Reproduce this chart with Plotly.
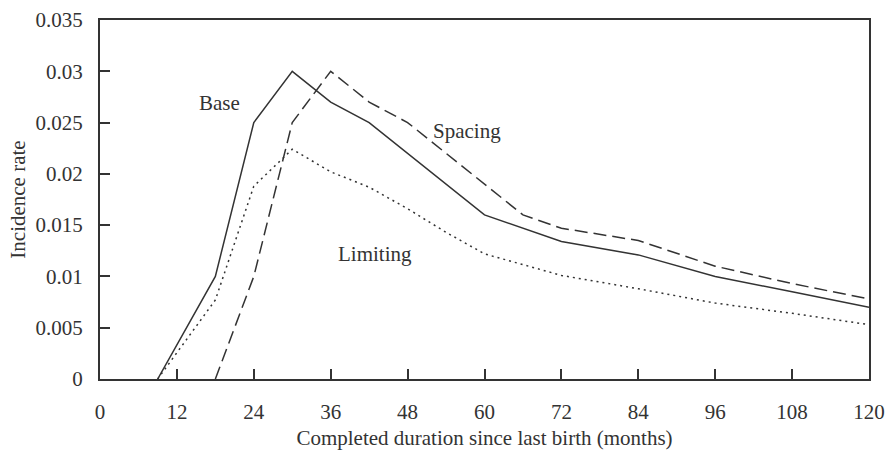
import plotly.graph_objects as go

# Completed duration since last birth (months) and incidence rates per scenario
base_months = [9, 18, 24, 30, 36, 42, 60, 72, 84, 96, 108, 120]
base_rate = [0.0, 0.010, 0.025, 0.030, 0.027, 0.025, 0.016, 0.0134, 0.0121, 0.0100, 0.0085, 0.0070]

spacing_months = [18, 24, 30, 36, 42, 48, 54, 60, 66, 72, 84, 96, 108, 120]
spacing_rate = [0.0, 0.010, 0.025, 0.030, 0.027, 0.025, 0.022, 0.019, 0.016, 0.0147, 0.0135, 0.0110, 0.0093, 0.0078]

limiting_months = [9, 18, 24, 30, 36, 42, 48, 54, 60, 72, 84, 96, 108, 120]
limiting_rate = [0.0, 0.0077, 0.0188, 0.0224, 0.0202, 0.0187, 0.0166, 0.0143, 0.0122, 0.0101, 0.0088, 0.0074, 0.0064, 0.0053]

x_ticks = [0, 12, 24, 36, 48, 60, 72, 84, 96, 108, 120]
y_ticks = [0, 0.005, 0.01, 0.015, 0.02, 0.025, 0.03, 0.035]
y_tick_text = ["0", "0.005", "0.01", "0.015", "0.02", "0.025", "0.03", "0.035"]

# Curve labels placed beside each line
label_text = ["Base", "Spacing", "Limiting"]
label_x = [18.7, 57.3, 42.9]
label_y = [0.0269, 0.0242, 0.0122]

INK = "#333333"
FONT = "Liberation Serif"
FS = 21

fig = go.Figure()
fig.add_trace(go.Scatter(x=base_months, y=base_rate, mode="lines", name="Base",
                         line=dict(color=INK, width=1.5)))
fig.add_trace(go.Scatter(x=spacing_months, y=spacing_rate, mode="lines", name="Spacing",
                         line=dict(color=INK, width=1.5, dash="13px,6px")))
fig.add_trace(go.Scatter(x=limiting_months, y=limiting_rate, mode="lines", name="Limiting",
                         line=dict(color=INK, width=1.5, dash="2px,4px")))

for t, xv, yv in zip(label_text, label_x, label_y):
    fig.add_annotation(x=xv, y=yv, text=t, showarrow=False,
                       font=dict(family=FONT, size=FS, color=INK))

fig.update_layout(
    width=889, height=450,
    margin=dict(l=100, r=20, t=20, b=71, autoexpand=False),
    paper_bgcolor="white", plot_bgcolor="white",
    showlegend=False,
    font=dict(family=FONT, size=FS, color=INK),
)
fig.update_xaxes(
    range=[0, 120], tickvals=x_ticks, ticks="inside", ticklen=10, tickwidth=1.5,
    tickcolor=INK, showline=True, linecolor=INK, linewidth=2, mirror=True,
    showgrid=False, zeroline=False, ticklabelstandoff=13, automargin=False,
    title=dict(text="Completed duration since last birth (months)", standoff=9,
               font=dict(family=FONT, size=FS, color=INK)),
    tickfont=dict(family=FONT, size=FS, color=INK),
)
fig.update_yaxes(
    range=[0, 0.035], tickvals=y_ticks, ticktext=y_tick_text, ticks="inside",
    ticklen=10, tickwidth=1.5, tickcolor=INK, showline=True, linecolor=INK,
    linewidth=2, mirror=True, showgrid=False, zeroline=False, ticklabelstandoff=11,
    automargin=False,
    title=dict(text="Incidence rate", standoff=4,
               font=dict(family=FONT, size=FS, color=INK)),
    tickfont=dict(family=FONT, size=FS, color=INK),
)

fig.write_html("out.html")
